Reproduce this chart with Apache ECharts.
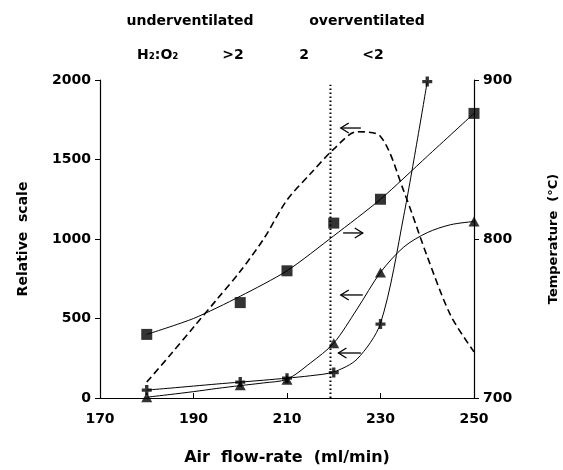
<!DOCTYPE html>
<html>
<head>
<meta charset="utf-8">
<script src="https://cdn.jsdelivr.net/npm/echarts@6/dist/echarts.min.js"></script>
<style>html,body{margin:0;padding:0;background:#fff}#c{width:563px;height:470px}</style>
</head>
<body>
<div id="c"></div>
<script>
// ---- data ----
var xTicks = [170, 190, 210, 230, 250];
var leftTicks = [0, 500, 1000, 1500, 2000];
var rightTicks = [700, 800, 900];

// squares: temperature (°C), right axis
var sqX = [180, 200, 210, 220, 230, 250];
var sqY = [740, 760, 780, 810, 825, 879];
var sqFitX = [180, 190, 200, 210, 220, 230, 240, 250];
var sqFitY = [740, 750, 764, 780, 802, 825, 852, 879];

// triangles: relative scale, left axis
var triX = [180, 200, 210, 220, 230, 250];
var triY = [5, 80, 115, 345, 790, 1110];
var triFitX = [180, 185, 190, 195, 200, 205, 210, 215, 220, 225, 230, 235, 240, 245, 250];
var triFitY = [5, 22, 40, 60, 78, 95, 118, 220, 345, 560, 790, 950, 1040, 1090, 1110];

// crosses: relative scale, left axis
var crX = [180, 200, 210, 220, 230, 240];
var crY = [50, 100, 125, 160, 465, 1990];
var crFitX = [180, 185, 190, 195, 200, 205, 210, 215, 220, 225, 230, 235, 240];
var crFitY = [50, 62, 75, 88, 100, 112, 125, 140, 164, 245, 470, 1150, 1990];

// dashed curve: relative scale, left axis
var dashX = [180, 185, 190, 195, 200, 205, 210, 215, 220, 225, 230, 235, 240, 245, 250];
var dashY = [100, 270, 445, 620, 797, 1000, 1245, 1410, 1565, 1675, 1645, 1300, 890, 520, 290];

// stoichiometric line H2:O2 = 2
var stoichX = 219.3;
var stoichTop = 1970;

// arrows: [tail x, tip x, y (relative scale)]
var arrows = [[225.8, 221.5, 1698], [222, 226.2, 1038], [226.2, 221.5, 648], [225.8, 221, 283]];

// ---- chart ----
function zip(a, b) { return a.map(function (v, i) { return [v, b[i]]; }); }
var FONT = 'DejaVu Sans';
var lineStyle = { color: '#000', width: 1 };
var crossPath = 'path://M3,0H6V3H9V6H6V9H3V6H0V3H3Z';
var topFont = 'bold 14px "DejaVu Sans"';

var chart = echarts.init(document.getElementById('c'), null, { renderer: 'canvas' });
chart.setOption({
  animation: false,
  backgroundColor: '#fff',
  textStyle: { fontFamily: FONT, color: '#000' },
  grid: { left: 100, right: 89, top: 80, bottom: 72, outerBoundsMode: 'none', containLabel: false },
  xAxis: {
    type: 'value', min: 170, max: 250, interval: 20,
    name: 'Air  flow-rate  (ml/min)', nameLocation: 'middle', nameGap: 52,
    nameTextStyle: { fontFamily: FONT, fontWeight: 'bold', fontSize: 16, color: '#000' },
    axisLine: { lineStyle: { color: '#000', width: 1.2 } },
    axisTick: { inside: true, length: 5, lineStyle: { color: '#000' } },
    axisLabel: { margin: 14, fontFamily: FONT, fontWeight: 'bold', fontSize: 14, color: '#000',
      formatter: function (v) { return xTicks.indexOf(v) >= 0 ? String(v) : ''; } },
    splitLine: { show: false }
  },
  yAxis: [{
    type: 'value', min: 0, max: 2000, interval: 500, position: 'left',
    name: 'Relative  scale', nameLocation: 'middle', nameGap: 70, nameRotate: 90,
    nameTextStyle: { fontFamily: FONT, fontWeight: 'bold', fontSize: 14, color: '#000' },
    axisLine: { show: true, lineStyle: { color: '#000', width: 1.2 } },
    axisTick: { show: true, length: 5, lineStyle: { color: '#000' } },
    axisLabel: { margin: 9, fontFamily: FONT, fontWeight: 'bold', fontSize: 14, color: '#000',
      formatter: function (v) { return leftTicks.indexOf(v) >= 0 ? String(v) : ''; } },
    splitLine: { show: false }
  }, {
    type: 'value', min: 700, max: 900, interval: 100, position: 'right',
    name: 'Temperature  (°C)', nameLocation: 'middle', nameGap: 73, nameRotate: 90,
    nameTextStyle: { fontFamily: FONT, fontWeight: 'bold', fontSize: 13, color: '#000' },
    axisLine: { show: true, lineStyle: { color: '#000', width: 1.2 } },
    axisTick: { show: true, length: 5, lineStyle: { color: '#000' } },
    axisLabel: { margin: 9, fontFamily: FONT, fontWeight: 'bold', fontSize: 14, color: '#000',
      formatter: function (v) { return rightTicks.indexOf(v) >= 0 ? String(v) : ''; } },
    splitLine: { show: false }
  }],
  graphic: [
    { type: 'text', x: 190, y: 21, style: { text: 'underventilated', font: topFont, fill: '#000', align: 'center', verticalAlign: 'middle' } },
    { type: 'text', x: 367, y: 21, style: { text: 'overventilated', font: topFont, fill: '#000', align: 'center', verticalAlign: 'middle' } },
    { type: 'text', x: 137, y: 55, style: { text: 'H₂:O₂', font: topFont, fill: '#000', align: 'left', verticalAlign: 'middle' } },
    { type: 'text', x: 233, y: 55, style: { text: '>2', font: topFont, fill: '#000', align: 'center', verticalAlign: 'middle' } },
    { type: 'text', x: 304, y: 55, style: { text: '2', font: topFont, fill: '#000', align: 'center', verticalAlign: 'middle' } },
    { type: 'text', x: 373, y: 55, style: { text: '<2', font: topFont, fill: '#000', align: 'center', verticalAlign: 'middle' } }
  ],
  series: [
    { type: 'line', yAxisIndex: 0, data: [[stoichX, 0], [stoichX, stoichTop]], symbol: 'none',
      lineStyle: { color: '#000', width: 2, type: [1.5, 2.5] }, z: 1 },
    { type: 'line', yAxisIndex: 0, data: zip(dashX, dashY), smooth: 0.3, symbol: 'none',
      lineStyle: { color: '#000', width: 1.6, type: [7, 4] } },
    { type: 'line', yAxisIndex: 1, data: zip(sqFitX, sqFitY), smooth: 0.25, symbol: 'none', lineStyle: lineStyle },
    { type: 'scatter', yAxisIndex: 1, data: zip(sqX, sqY), symbol: 'rect', symbolSize: 11, itemStyle: { color: '#000' }, z: 5 },
    { type: 'line', yAxisIndex: 0, data: zip(triFitX, triFitY), smooth: 0.3, symbol: 'none', lineStyle: lineStyle },
    { type: 'scatter', yAxisIndex: 0, data: zip(triX, triY), symbol: 'triangle', symbolSize: [11, 10], itemStyle: { color: '#000' }, z: 5 },
    { type: 'line', yAxisIndex: 0, data: zip(crFitX, crFitY), smooth: 0.3, symbol: 'none', lineStyle: lineStyle },
    { type: 'scatter', yAxisIndex: 0, data: zip(crX, crY), symbol: crossPath, symbolSize: 10, itemStyle: { color: '#000' }, z: 5 },
    { type: 'custom', yAxisIndex: 0, data: arrows, encode: { x: [0, 1], y: 2 },
      renderItem: function (params, api) {
        var p1 = api.coord([api.value(0), api.value(2)]);
        var p2 = api.coord([api.value(1), api.value(2)]);
        var d = p2[0] > p1[0] ? 1 : -1;
        return { type: 'group', children: [
          { type: 'polyline', shape: { points: [p1, p2] }, style: { stroke: '#000', lineWidth: 1.3, fill: null } },
          { type: 'polyline', shape: { points: [[p2[0] - d * 8, p2[1] - 5], p2, [p2[0] - d * 8, p2[1] + 5]] }, style: { stroke: '#000', lineWidth: 1.3, fill: null } }
        ] };
      } }
  ]
});
</script>
</body>
</html>
